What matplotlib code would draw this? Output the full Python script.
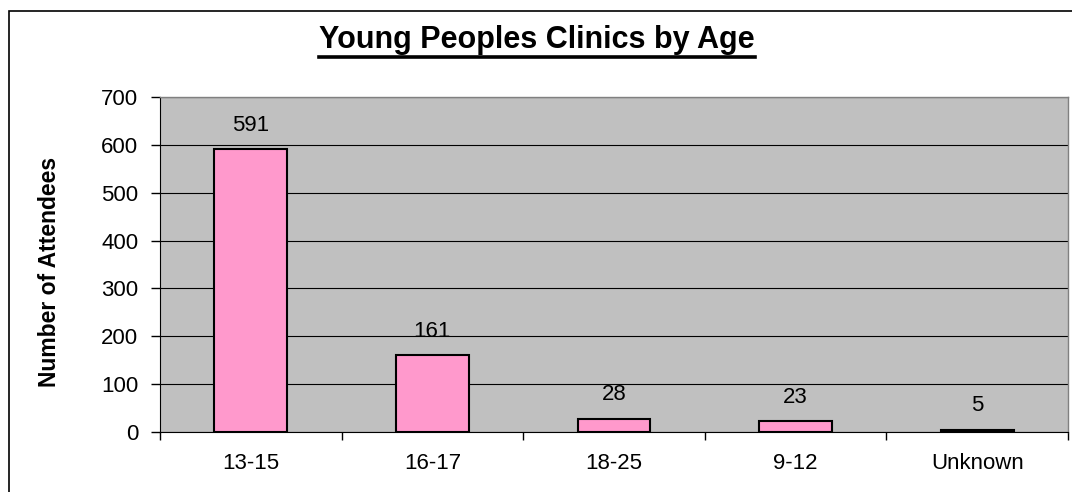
import matplotlib
matplotlib.use("Agg")
import matplotlib.pyplot as plt
from matplotlib.patches import Rectangle
from matplotlib.lines import Line2D
import numpy as np

categories = ["13-15", "16-17", "18-25", "9-12", "Unknown"]
attendees = [591, 161, 28, 23, 5]
yticks = [0, 100, 200, 300, 400, 500, 600, 700]

plt.rcParams["font.family"] = ["Liberation Sans", "DejaVu Sans"]

fig = plt.figure(figsize=(10.72, 4.92), dpi=100)
ax = fig.add_axes([160 / 1072, 60 / 492, 908 / 1072, 335 / 492])

# outer chart frame
fig.patches.append(Rectangle((9 / 1072, -0.05), 1.2, (492 - 11) / 492 + 0.05,
                             transform=fig.transFigure, fill=False,
                             edgecolor="black", linewidth=1.2, zorder=0))

ax.set_facecolor("#C0C0C0")
x = np.arange(len(categories))
bars = ax.bar(x, attendees, width=0.4, color="#FF99CC", edgecolor="black",
              linewidth=1.5, zorder=3)

ax.set_xlim(-0.5, len(categories) - 0.5)
ax.set_ylim(0, 700)
ax.set_yticks(yticks)
ax.set_yticklabels([str(v) for v in yticks], fontsize=16)
ax.yaxis.grid(True, color="black", linewidth=0.8, zorder=1)
ax.set_axisbelow(True)

ax.set_xticks(x)
ax.set_xticklabels(categories, fontsize=16)
ax.tick_params(axis="x", which="major", length=0, pad=15)
ax.set_xticks(np.arange(-0.5, len(categories)), minor=True)
ax.tick_params(axis="x", which="minor", length=6, width=1, color="black")
ax.tick_params(axis="y", length=6.5, width=1, color="black", pad=9)

for side in ("top", "right"):
    ax.spines[side].set_color("#808080")
    ax.spines[side].set_linewidth(1)
ax.spines["left"].set_color("black")
ax.spines["bottom"].set_color("black")

for xi, v in zip(x, attendees):
    ax.annotate(str(v), (xi, v), xytext=(0, 17), textcoords="offset points",
                ha="center", va="center", fontsize=16)

ax.set_ylabel("Number of Attendees", fontsize=16.5, fontweight="bold",
              va="center")
ax.yaxis.set_label_coords(-(160 - 50) / 908, (432 - 272) / 335)

title = fig.text(537 / 1072, 1 - 48 / 492, "Young Peoples Clinics by Age",
                 ha="center", va="baseline", fontsize=22, fontweight="bold")

# underline beneath the title
fig.canvas.draw()
bb = title.get_window_extent(renderer=fig.canvas.get_renderer())
inv = fig.transFigure.inverted()
(x0, y0), (x1, y1) = inv.transform([(bb.x0, bb.y0), (bb.x1, bb.y1)])
uy = 1 - 57 / 492
fig.lines.append(Line2D([x0, x1], [uy, uy],
                        transform=fig.transFigure, color="black", linewidth=2.6))

fig.savefig("out.png", dpi=100)
